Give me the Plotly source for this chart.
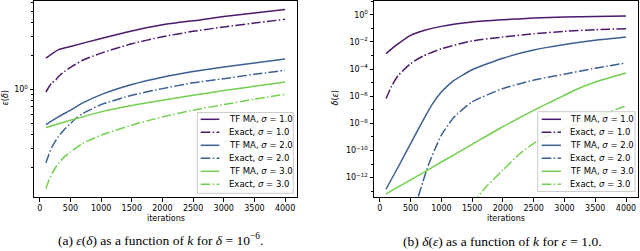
import plotly.graph_objects as go

# ---------------- data ----------------
# Left panel: eps(delta) for delta = 1e-6
L_k_tf1 = [100, 308, 500, 1000, 1500, 2000, 2606, 3000, 3500, 4000]
L_v_tf1 = [1.915, 2.276, 2.43, 2.87, 3.35, 3.80, 4.20, 4.50, 4.85, 5.21]
L_k_ex1 = [100, 150, 200, 255, 300, 400, 500, 700, 1000, 1500, 2000, 2500, 3000, 3500, 4000]
L_v_ex1 = [0.95, 1.06, 1.15, 1.21, 1.30, 1.45, 1.58, 1.83, 2.12, 2.57, 2.97, 3.32, 3.63, 3.94, 4.25]
L_k_tf2 = [100, 300, 500, 700, 1000, 1500, 2000, 2500, 3000, 3500, 4000]
L_v_tf2 = [0.487, 0.570, 0.654, 0.76, 0.902, 1.11, 1.29, 1.45, 1.59, 1.73, 1.88]
L_k_ex2 = [100, 150, 200, 300, 400, 500, 600, 700, 1000, 1500, 2000, 2500, 3000, 3500, 4000]
L_v_ex2 = [0.221, 0.265, 0.308, 0.378, 0.44, 0.497, 0.56, 0.61, 0.734, 0.89, 1.02, 1.15, 1.25, 1.37, 1.49]
L_k_tf3 = [100, 500, 1000, 1500, 2000, 2500, 3000, 3500, 4000]
L_v_tf3 = [0.458, 0.532, 0.632, 0.72, 0.803, 0.89, 0.98, 1.07, 1.17]
L_k_ex3 = [100, 150, 200, 300, 400, 500, 700, 1000, 1500, 2000, 2500, 3000, 3500, 4000]
L_v_ex3 = [0.1306, 0.155, 0.178, 0.218, 0.25, 0.277, 0.33, 0.391, 0.481, 0.570, 0.654, 0.734, 0.82, 0.908]

# Right panel: log10 of delta(eps) for eps = 1.0
R_k_tf1 = [100, 200, 300, 500, 700, 1000, 1500, 2000, 2500, 3000, 3500, 4000]
R_l_tf1 = [-2.87, -2.48, -2.13, -1.52, -1.18, -0.857, -0.54, -0.37, -0.245, -0.17, -0.13, -0.10]
R_k_ex1 = [100, 200, 300, 500, 700, 1000, 1500, 2000, 2500, 3000, 3500, 4000]
R_l_ex1 = [-6.17, -5.19, -4.46, -3.60, -3.05, -2.50, -1.93, -1.64, -1.40, -1.22, -1.10, -1.03]
R_k_tf2 = [100, 300, 500, 700, 850, 1000, 1200, 1500, 2000, 2500, 3000, 3500, 4000]
R_l_tf2 = [-12.86, -11.2, -9.5, -7.8, -6.6, -5.7, -4.85, -4.05, -3.2, -2.6, -2.2, -1.88, -1.64]
R_k_ex2 = [560, 622, 700, 757, 800, 900, 1000, 1200, 1500, 2000, 2500, 3000, 3500, 4000]
R_l_ex2 = [-14.5, -13.45, -12.3, -11.5, -10.95, -9.85, -8.87, -7.57, -6.42, -5.44, -4.82, -4.38, -3.94, -3.55]
R_k_tf3 = [100, 757, 1000, 1500, 1946, 2500, 3000, 3162, 3500, 4000]
R_l_tf3 = [-13.2, -11.5, -10.85, -9.55, -8.38, -7.05, -5.93, -5.56, -4.95, -4.29]
R_k_ex3 = [1500, 1584, 1730, 2000, 2270, 2540, 3000, 3500, 4000]
R_l_ex3 = [-13.9, -13.45, -12.66, -11.45, -10.26, -9.36, -8.4, -7.5, -6.73]

labels = ["TF MA, <i>σ</i> = 1.0", "Exact, <i>σ</i> = 1.0",
          "TF MA, <i>σ</i> = 2.0", "Exact, <i>σ</i> = 2.0",
          "TF MA, <i>σ</i> = 3.0", "Exact, <i>σ</i> = 3.0"]
colors = ["#4b1a6e", "#4b1a6e", "#3c6092", "#3c6092", "#72d04f", "#72d04f"]

x_ticks = [0, 500, 1000, 1500, 2000, 2500, 3000, 3500, 4000]
right_tick_exp = [0, -2, -4, -6, -8, -10, -12]

DASHDOT = "9.6px,2.4px,1.5px,2.4px"


def dash_of(i):
    return "solid" if i % 2 == 0 else DASHDOT


fig = go.Figure()

left = [(L_k_tf1, L_v_tf1), (L_k_ex1, L_v_ex1), (L_k_tf2, L_v_tf2),
        (L_k_ex2, L_v_ex2), (L_k_tf3, L_v_tf3), (L_k_ex3, L_v_ex3)]
right = [(R_k_tf1, R_l_tf1), (R_k_ex1, R_l_ex1), (R_k_tf2, R_l_tf2),
         (R_k_ex2, R_l_ex2), (R_k_tf3, R_l_tf3), (R_k_ex3, R_l_ex3)]

for i, (k, v) in enumerate(left):
    fig.add_trace(go.Scatter(
        x=k, y=v, mode="lines", name=labels[i], showlegend=False,
        line=dict(color=colors[i], width=1.5, shape="spline", smoothing=0.5, dash=dash_of(i)),
        xaxis="x", yaxis="y"))

for i, (k, l) in enumerate(right):
    fig.add_trace(go.Scatter(
        x=k, y=[10 ** e for e in l], mode="lines", name=labels[i], showlegend=False,
        line=dict(color=colors[i], width=1.5, shape="spline", smoothing=0.5, dash=dash_of(i)),
        xaxis="x2", yaxis="y2"))

W, H = 640, 251
ydom = [(H - 197) / H, (H - 0.5) / H]
tickfont = dict(family="DejaVu Sans", size=8, color="#000")

axis_common = dict(showline=True, linecolor="#000", linewidth=1, mirror=True,
                   showgrid=False, zeroline=False, ticks="outside", ticklen=3.5,
                   tickwidth=0.8, tickcolor="#000", tickfont=tickfont)

fig.update_layout(
    width=W, height=H, margin=dict(l=0, r=0, t=0, b=0),
    paper_bgcolor="white", plot_bgcolor="white", showlegend=False,
    xaxis=dict(domain=[34 / W, 297 / W], range=[-95, 4195], tickvals=x_ticks,
               anchor="y", **axis_common),
    yaxis=dict(domain=ydom, type="log", range=[-0.961, 0.797], tickvals=[1],
               ticktext=["10<sup>0</sup>"], anchor="x",
               minor=dict(ticks="outside", ticklen=2, tickwidth=0.6, tickcolor="#000",
                          tickvals=[0.2, 0.3, 0.4, 0.5, 0.6, 0.7, 0.8, 0.9, 2, 3, 4, 5, 6]),
               **axis_common),
    xaxis2=dict(domain=[374 / W, 638 / W], range=[-95, 4195], tickvals=x_ticks,
                anchor="y2", **axis_common),
    yaxis2=dict(domain=ydom, type="log", range=[-13.43, 1.05],
                tickvals=[10.0 ** e for e in right_tick_exp],
                ticktext=["10<sup>%s</sup>" % (str(e).replace("-", "−")) for e in right_tick_exp],
                anchor="x2",
                minor=dict(ticks="outside", ticklen=2, tickwidth=0.6, tickcolor="#000",
                           tickvals=[10.0 ** e for e in [1, -1, -3, -5, -7, -9, -11, -13]]),
                **axis_common),
)

# ---- legends (matplotlib-style boxes, drawn in paper space) ----
def px(x):
    return x / W


def py(y):
    return 1 - y / H


legend_boxes = [
    dict(x0=197.3, x1=293.3, y0=112.5, y1=193.3, line_x0=200.7, line_x1=219.3, text_x=226.7),
    dict(x0=537.7, x1=635.0, y0=111.7, y1=191.5, line_x0=541.7, line_x1=561.0, text_x=567.7),
]
row_y0, row_dy = 119.3, 13.0
legfont = dict(family="DejaVu Sans", size=8.5, color="#000")

for b in legend_boxes:
    fig.add_shape(type="rect", xref="paper", yref="paper", layer="above",
                  x0=px(b["x0"]), x1=px(b["x1"]), y0=py(b["y1"]), y1=py(b["y0"]),
                  fillcolor="rgba(255,255,255,0.8)", line=dict(color="#cccccc", width=1))
    for i in range(6):
        yy = row_y0 + i * row_dy
        fig.add_shape(type="line", xref="paper", yref="paper", layer="above",
                      x0=px(b["line_x0"]), x1=px(b["line_x1"]), y0=py(yy), y1=py(yy),
                      line=dict(color=colors[i], width=1.5, dash=dash_of(i)))
        fig.add_annotation(xref="paper", yref="paper", showarrow=False,
                           x=px(b["text_x"]), y=py(yy), xanchor="left", yanchor="middle",
                           text=labels[i], font=legfont)

labfont = dict(family="DejaVu Sans", size=8, color="#000")
capfont = dict(family="Liberation Serif", size=13.5, color="#000")
ann = [
    dict(text="<i>ε</i>(<i>δ</i>)", x=5 / W, y=1 - 98.5 / H, textangle=-90, font=labfont),
    dict(text="<i>δ</i>(<i>ε</i>)", x=335 / W, y=1 - 98.5 / H, textangle=-90, font=labfont),
    dict(text="iterations", x=165.5 / W, y=1 - 218 / H, font=labfont),
    dict(text="iterations", x=506 / W, y=1 - 218 / H, font=labfont),
    dict(text="(a) <i>ε</i>(<i>δ</i>) as a function of <i>k</i> for <i>δ</i> = 10<sup>−6</sup>.",
         x=160 / W, y=1 - 239.5 / H, font=capfont),
    dict(text="(b) <i>δ</i>(<i>ε</i>) as a function of <i>k</i> for <i>ε</i> = 1.0.",
         x=502 / W, y=1 - 241 / H, font=capfont),
]
for a in ann:
    fig.add_annotation(xref="paper", yref="paper", showarrow=False,
                       xanchor="center", yanchor="middle", **a)

fig.write_html("out.html", config={"displayModeBar": False},
               post_script="document.body.style.margin='0';document.body.style.overflow='hidden';")
